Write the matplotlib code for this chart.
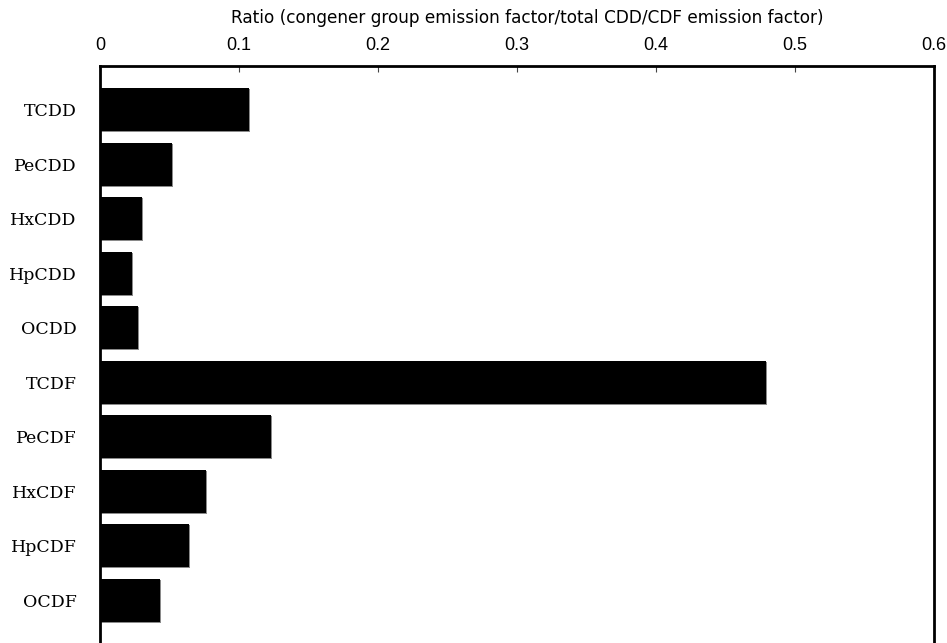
import matplotlib
matplotlib.use("Agg")
import matplotlib.pyplot as plt
import matplotlib.patheffects as pe

# Congener groups and their share of the total CDD/CDF emission factor
categories = ["TCDD", "PeCDD", "HxCDD", "HpCDD", "OCDD",
              "TCDF", "PeCDF", "HxCDF", "HpCDF", "OCDF"]
ratios = [0.107, 0.052, 0.030, 0.023, 0.027,
          0.479, 0.123, 0.076, 0.064, 0.043]
x_ticks = [0, 0.1, 0.2, 0.3, 0.4, 0.5, 0.6]
x_tick_labels = ["0", "0.1", "0.2", "0.3", "0.4", "0.5", "0.6"]
x_title = "Ratio (congener group emission factor/total CDD/CDF emission factor)"

fig = plt.figure(figsize=(9.47, 6.43), dpi=100)
ax = fig.add_axes([100 / 947, -1 / 643, 834 / 947, 578 / 643])

positions = list(range(len(categories)))
bars = ax.barh(positions, ratios, height=0.79, color="black", edgecolor="none")
for b in bars:
    b.set_path_effects([
        pe.SimplePatchShadow(offset=(0.8, -0.8), shadow_rgbFace="#8a8a8a", alpha=1.0),
        pe.Normal(),
    ])

ax.set_xlim(0, 0.6)
ax.set_ylim(len(categories) - 0.2, -0.8)

ax.xaxis.tick_top()
ax.xaxis.set_label_position("top")
ax.set_xticks(x_ticks)
ax.set_xticklabels(x_tick_labels, fontfamily="Liberation Sans", fontsize=13)
ax.tick_params(axis="x", direction="in", length=4, width=0.8, pad=8.5, color="#444444")
ax.set_xlabel(x_title, fontfamily="DejaVu Sans", fontsize=12.2)
ax.xaxis.set_label_coords((527 - 100) / 834, 1.0 + 39 / 578)
ax.xaxis.label.set_va("bottom")

ax.set_yticks(positions)
ax.set_yticklabels(categories, fontfamily="DejaVu Serif", fontsize=12.5)
ax.tick_params(axis="y", length=0, pad=17)

for side in ("left", "top", "right"):
    ax.spines[side].set_linewidth(2.0)
    ax.spines[side].set_color("black")
ax.spines["bottom"].set_visible(False)

fig.savefig("out.png", dpi=100)
